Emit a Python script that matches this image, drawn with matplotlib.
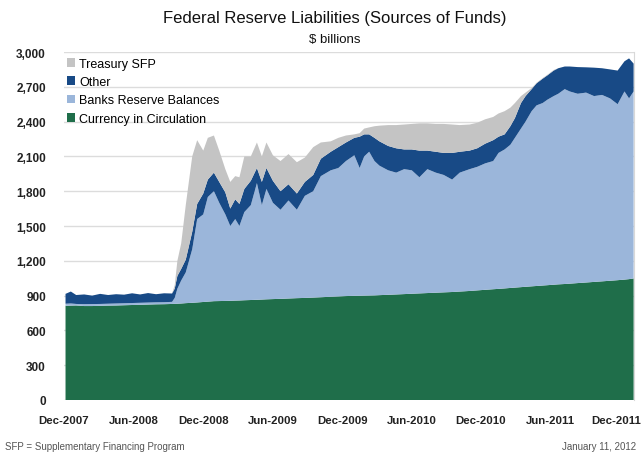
import matplotlib
matplotlib.use("Agg")
import matplotlib.pyplot as plt
import matplotlib.transforms as mtransforms
import numpy as np
import pandas as pd

plt.rcParams['font.family'] = ['Liberation Sans', 'DejaVu Sans']

# weekly-ish readings from the chart ($ billions)
dates = pd.to_datetime([
    '2007-12-05', '2007-12-19', '2008-01-02', '2008-01-23', '2008-02-13', '2008-03-05',
    '2008-03-26', '2008-04-16', '2008-05-07', '2008-05-28', '2008-06-18', '2008-07-09',
    '2008-07-30', '2008-08-20', '2008-09-10', '2008-09-17', '2008-09-24', '2008-10-04',
    '2008-10-16', '2008-11-02', '2008-11-15', '2008-12-01', '2008-12-13', '2008-12-29',
    '2009-01-12', '2009-01-28', '2009-02-10', '2009-02-23', '2009-03-06', '2009-03-19',
    '2009-04-05', '2009-04-21', '2009-05-04', '2009-05-16', '2009-06-02', '2009-06-22',
    '2009-07-13', '2009-08-04', '2009-08-25', '2009-09-16', '2009-10-06', '2009-11-01',
    '2009-11-21', '2009-12-11', '2010-01-02', '2010-01-16', '2010-01-28', '2010-02-10',
    '2010-02-24', '2010-03-09', '2010-04-01', '2010-04-22', '2010-05-13', '2010-06-02',
    '2010-06-22', '2010-07-13', '2010-08-04', '2010-08-25', '2010-09-16', '2010-10-06',
    '2010-11-01', '2010-11-21', '2010-12-12', '2011-01-02', '2011-01-16', '2011-02-01',
    '2011-02-16', '2011-02-28', '2011-03-16', '2011-03-28', '2011-04-13', '2011-04-26',
    '2011-05-12', '2011-05-25', '2011-06-10', '2011-06-22', '2011-07-09', '2011-07-22',
    '2011-08-12', '2011-09-03', '2011-09-24', '2011-10-15', '2011-11-05', '2011-11-25',
    '2011-12-13', '2011-12-25', '2012-01-06',
])

currency = [
    812, 814, 815, 810, 810, 812, 814, 815, 817, 819, 821, 823,
    825, 826, 828, 829, 830, 832, 835, 838, 841, 845, 848, 852,
    853, 854, 855, 857, 858, 860, 862, 864, 866, 868, 870, 872,
    875, 878, 880, 883, 886, 890, 893, 896, 898, 899, 900, 901,
    902, 904, 907, 910, 913, 916, 919, 922, 925, 928, 931, 935,
    940, 945, 950, 955, 958, 962, 966, 969, 973, 976, 980, 983,
    987, 990, 994, 997, 1000, 1003, 1008, 1013, 1018, 1023, 1028, 1033,
    1038, 1042, 1048,
]
reserves = [
    18, 18, 13, 16, 17, 16, 16, 17, 17, 17, 17, 17,
    17, 17, 18, 51, 130, 198, 265, 462, 719, 755, 902, 948,
    847, 746, 645, 703, 642, 760, 818, 1006, 814, 952, 830, 768,
    845, 762, 880, 917, 1044, 1090, 1107, 1164, 1212, 1101, 1200, 1239,
    1158, 1116, 1073, 1050, 1077, 1064, 1001, 1068, 1035, 1012, 969, 1025,
    1050, 1065, 1090, 1105, 1172, 1198, 1234, 1291, 1367, 1424, 1510, 1557,
    1573, 1600, 1626, 1643, 1680, 1657, 1632, 1637, 1602, 1607, 1572, 1517,
    1622, 1558, 1612,
]
other = [
    85, 103, 77, 84, 73, 87, 75, 80, 74, 84, 72, 82,
    70, 77, 72, 80, 110, 100, 110, 150, 130, 180, 150, 160,
    180, 190, 150, 170, 190, 200, 210, 130, 200, 180, 190, 160,
    140, 140, 120, 140, 150, 160, 180, 160, 150, 270, 190, 150,
    200, 210, 210, 210, 170, 180, 230, 160, 180, 190, 230, 180,
    160, 160, 170, 180, 140, 130, 160, 170, 220, 220, 190, 190,
    210, 210, 220, 220, 195, 215, 230, 218, 245, 230, 250, 290,
    260, 345, 240,
]
treasury_sfp = [
    0, 0, 0, 0, 0, 0, 0, 0, 0, 0, 0, 0,
    0, 0, 0, 30, 130, 220, 470, 650, 550, 370, 360, 320,
    270, 200, 230, 200, 230, 280, 210, 220, 220, 220, 220, 260,
    260, 270, 210, 240, 140, 90, 80, 60, 30, 30, 50, 60,
    100, 135, 180, 200, 215, 220, 235, 235, 240, 250, 245, 230,
    225, 220, 210, 200, 200, 200, 160, 130, 60, 30, 10, 5,
    5, 5, 5, 0, 0, 0, 0, 0, 0, 0, 0, 0,
    0, 0, 0,
]

labels = ['Currency in Circulation', 'Banks Reserve Balances', 'Other', 'Treasury SFP']
colors = ['#1f6e4a', '#9bb6da', '#184a86', '#c4c4c4']
yticks = [0, 300, 600, 900, 1200, 1500, 1800, 2100, 2400, 2700, 3000]
xtick_dates = pd.to_datetime(['2007-12-01', '2008-06-01', '2008-12-01', '2009-06-01',
                              '2009-12-01', '2010-06-01', '2010-12-01', '2011-06-01',
                              '2011-12-01'])

fig = plt.figure(figsize=(6.42, 4.56), dpi=100)
ax = fig.add_axes([64 / 642, 1 - 401 / 456, 570 / 642, 348 / 456])

ax.stackplot(dates, currency, reserves, other, treasury_sfp,
             colors=colors, labels=labels, linewidth=0, zorder=2)

ax.set_ylim(0, 3000)
ax.set_xlim(pd.Timestamp('2007-12-01'), pd.Timestamp('2012-01-07'))
ax.set_yticks(yticks)
ax.set_yticklabels([f'{v:,}' for v in yticks])
ax.set_xticks(xtick_dates)
ax.set_xticklabels([d.strftime('%b-%Y') for d in xtick_dates])
ax.tick_params(axis='both', length=0, colors='#222222')
ax.tick_params(axis='y', pad=13, labelsize=8.5)
ax.tick_params(axis='x', pad=11, labelsize=8.2)
for lab in ax.get_xticklabels() + ax.get_yticklabels():
    lab.set_fontweight('bold')
# last label sits against the right edge, nudge it inside
last = ax.get_xticklabels()[-1]
last.set_transform(last.get_transform() +
                   mtransforms.ScaledTranslation(-4 / 100, 0, fig.dpi_scale_trans))

ax.grid(axis='y', color='#dcdcdc', linewidth=1, zorder=0)
ax.set_axisbelow(True)
for side in ['top', 'left', 'bottom']:
    ax.spines[side].set_visible(False)
ax.spines['right'].set_color('#d8d8d8')

handles, labs = ax.get_legend_handles_labels()
ax.legend(handles[::-1], labs[::-1], loc='upper left', bbox_to_anchor=(0.0, 0.99),
          frameon=False, fontsize=9, handlelength=0.7, handleheight=0.7,
          handletextpad=0.3, labelspacing=0.5, borderpad=0.2, borderaxespad=0)

fig.text(335 / 642, 1 - 18 / 456, 'Federal Reserve Liabilities (Sources of Funds)',
         ha='center', va='center', fontsize=12, color='#111111')
fig.text(335 / 642, 1 - 40 / 456, '$ billions', ha='center', va='center',
         fontsize=9.5, color='#111111')
fig.text(5 / 642, 1 - 447 / 456, 'SFP = Supplementary Financing Program',
         ha='left', va='center', fontsize=7, color='#555555')
fig.text(636 / 642, 1 - 447 / 456, 'January 11, 2012',
         ha='right', va='center', fontsize=7, color='#555555')

fig.savefig('out.png', dpi=100)
